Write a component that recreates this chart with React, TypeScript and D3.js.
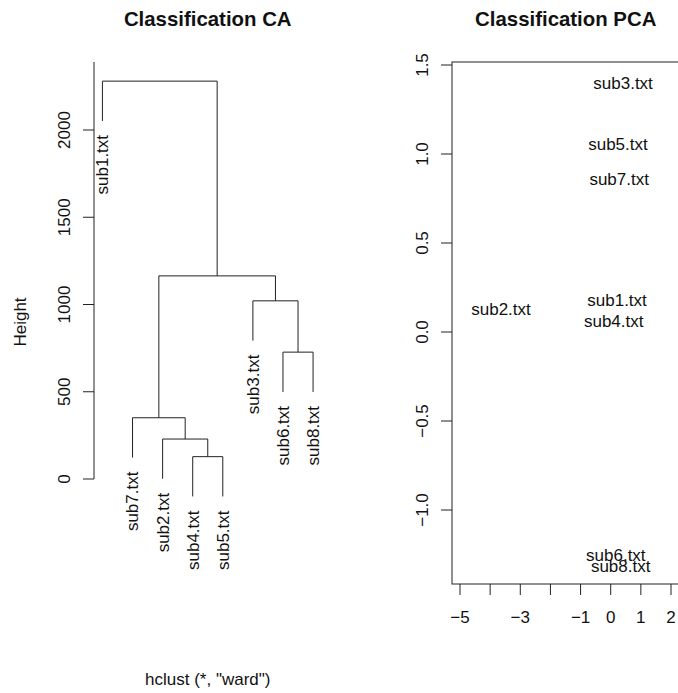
import React, { useEffect, useRef } from "react";
import * as d3 from "d3";

// dendrogram (hclust, ward)
const leafOrder = ["sub1.txt", "sub7.txt", "sub2.txt", "sub4.txt", "sub5.txt", "sub3.txt", "sub6.txt", "sub8.txt"];
// R-style merge table: string = leaf, number = earlier merge (1-based)
const mergeA: (string | number)[] = ["sub4.txt", "sub2.txt", "sub7.txt", "sub6.txt", "sub3.txt", 3, "sub1.txt"];
const mergeB: (string | number)[] = ["sub5.txt", 1, 2, "sub8.txt", 4, 5, 6];
const mergeHeight = [128, 229, 351, 727, 1021, 1164, 2280];
const heightTicks = [0, 500, 1000, 1500, 2000];

// PCA scatter of labels
const pcaLabels = ["sub1.txt", "sub2.txt", "sub3.txt", "sub4.txt", "sub5.txt", "sub6.txt", "sub7.txt", "sub8.txt"];
const pcaX = [0.21, -3.64, 0.41, 0.1, 0.24, 0.17, 0.28, 0.33];
const pcaY = [0.18, 0.13, 1.4, 0.064, 1.056, -1.253, 0.86, -1.315];
const pcaXTicks = [-5, -4, -3, -2, -1, 0, 1, 2];
const pcaXLabels = [-5, -3, -1, 0, 1, 2];
const pcaYTicks = [-1, -0.5, 0, 0.5, 1, 1.5];

const FONT = "'Liberation Sans', Arial, Helvetica, sans-serif";
const FS = 17;

const App: React.FC = () => {
  const svgRef = useRef<SVGSVGElement>(null);

  useEffect(() => {
    if (!svgRef.current) return;
    const svg = d3.select(svgRef.current);
    svg.selectAll("*").remove();
    svg.attr("font-family", FONT).attr("font-size", FS);

    const minus = (v: number) => String(v).replace("-", "\u2212");

    // ---------- left panel: dendrogram ----------
    const L = { left: 94, right: 321.5, top: 62, bottom: 584 };
    const x = d3.scaleLinear().domain([0.72, leafOrder.length + 0.28]).range([L.left, L.right]);
    const y = d3.scaleLinear().domain([0, 2000]).range([479, 130]);
    const hang = 0.1 * (d3.max(mergeHeight) as number);

    const left = svg.append("g");

    // position of every merge node
    const nodeX: number[] = [];
    const pos = (r: string | number) =>
      typeof r === "string" ? leafOrder.indexOf(r) + 1 : nodeX[r - 1];

    mergeHeight.forEach((h, i) => {
      const a = mergeA[i];
      const b = mergeB[i];
      const xa = pos(a);
      const xb = pos(b);
      nodeX.push((xa + xb) / 2);
      const ya = typeof a === "string" ? h - hang : mergeHeight[(a as number) - 1];
      const yb = typeof b === "string" ? h - hang : mergeHeight[(b as number) - 1];
      const path = d3.path();
      path.moveTo(x(xa), y(ya));
      path.lineTo(x(xa), y(h));
      path.lineTo(x(xb), y(h));
      path.lineTo(x(xb), y(yb));
      left
        .append("path")
        .attr("d", path.toString())
        .attr("fill", "none")
        .attr("stroke", "#222")
        .attr("stroke-width", 1);

      [a, b].forEach((r, k) => {
        if (typeof r !== "string") return;
        const lx = x(k === 0 ? xa : xb);
        const ly = y(h - hang) + 14;
        left
          .append("text")
          .attr("transform", `translate(${lx},${ly}) rotate(-90)`)
          .attr("text-anchor", "end")
          .attr("dy", "0.35em")
          .attr("fill", "#111")
          .text(r);
      });
    });

    // y axis
    left
      .append("line")
      .attr("x1", L.left)
      .attr("x2", L.left)
      .attr("y1", y(0))
      .attr("y2", L.top)
      .attr("stroke", "#222");
    heightTicks.forEach((t) => {
      left
        .append("line")
        .attr("x1", L.left - 11)
        .attr("x2", L.left)
        .attr("y1", y(t))
        .attr("y2", y(t))
        .attr("stroke", "#222");
      left
        .append("text")
        .attr("transform", `translate(${L.left - 24},${y(t)}) rotate(-90)`)
        .attr("text-anchor", "middle")
        .attr("fill", "#111")
        .text(t);
    });

    left
      .append("text")
      .attr("transform", `translate(26,${(L.bottom + L.top) / 2 - 1}) rotate(-90)`)
      .attr("text-anchor", "middle")
      .attr("fill", "#111")
      .text("Height");

    left
      .append("text")
      .attr("x", (L.left + L.right) / 2)
      .attr("y", 685)
      .attr("text-anchor", "middle")
      .attr("fill", "#111")
      .text('hclust (*, "ward")');

    left
      .append("text")
      .attr("x", (L.left + L.right) / 2)
      .attr("y", 26)
      .attr("text-anchor", "middle")
      .attr("font-weight", "bold")
      .attr("font-size", FS * 1.2)
      .attr("fill", "#111")
      .text("Classification CA");

    // ---------- right panel: PCA ----------
    const R = { left: 452, right: 679.5, top: 62, bottom: 584 };
    const px = d3.scaleLinear().domain([-5, 2]).range([460, 671]);
    const py = d3.scaleLinear().domain([-1, 1.5]).range([510, 65]);
    const right = svg.append("g");

    right
      .append("rect")
      .attr("x", R.left)
      .attr("y", R.top)
      .attr("width", R.right - R.left)
      .attr("height", R.bottom - R.top)
      .attr("fill", "none")
      .attr("stroke", "#222");

    pcaXTicks.forEach((t) => {
      right
        .append("line")
        .attr("x1", px(t))
        .attr("x2", px(t))
        .attr("y1", R.bottom)
        .attr("y2", R.bottom + 11)
        .attr("stroke", "#222");
    });
    pcaXLabels.forEach((t) => {
      right
        .append("text")
        .attr("x", px(t))
        .attr("y", 623)
        .attr("text-anchor", "middle")
        .attr("fill", "#111")
        .text(minus(t));
    });

    pcaYTicks.forEach((t) => {
      right
        .append("line")
        .attr("x1", R.left - 11)
        .attr("x2", R.left)
        .attr("y1", py(t))
        .attr("y2", py(t))
        .attr("stroke", "#222");
      right
        .append("text")
        .attr("transform", `translate(${R.left - 24},${py(t)}) rotate(-90)`)
        .attr("text-anchor", "middle")
        .attr("fill", "#111")
        .text(minus(t) === "1" || minus(t) === "0" || minus(t) === "\u22121" ? minus(t) + ".0" : minus(t));
    });

    pcaLabels.forEach((lab, i) => {
      right
        .append("text")
        .attr("x", px(pcaX[i]))
        .attr("y", py(pcaY[i]))
        .attr("dy", "0.36em")
        .attr("text-anchor", "middle")
        .attr("fill", "#111")
        .text(lab);
    });

    right
      .append("text")
      .attr("x", (R.left + R.right) / 2)
      .attr("y", 26)
      .attr("text-anchor", "middle")
      .attr("font-weight", "bold")
      .attr("font-size", FS * 1.2)
      .attr("fill", "#111")
      .text("Classification PCA");
  }, []);

  return (
    <svg
      ref={svgRef}
      width={678}
      height={693}
      style={{ position: "absolute", left: 0, top: 0, background: "#fff" }}
    />
  );
};

export default App;
